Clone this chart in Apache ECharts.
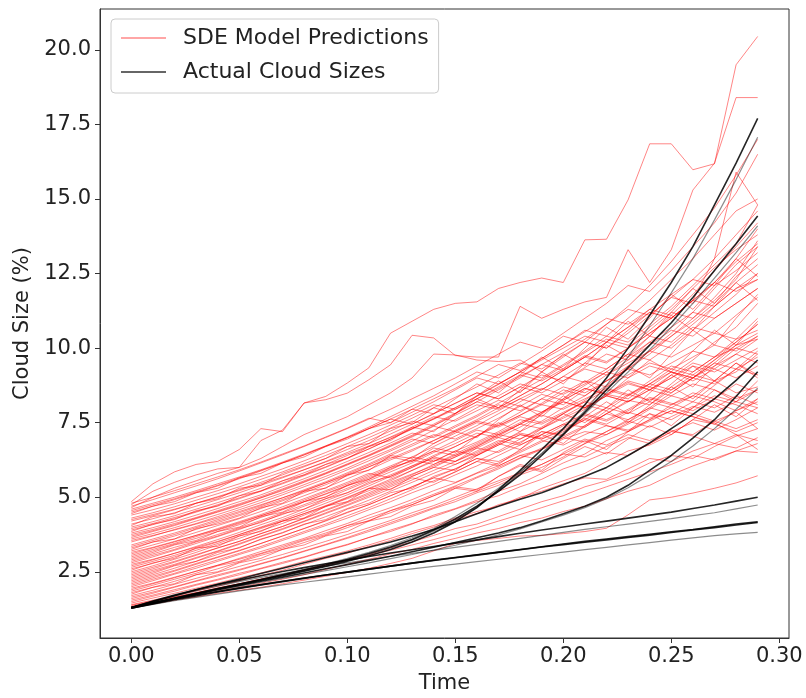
<!DOCTYPE html>
<html><head><meta charset="utf-8">
<script src="https://cdn.jsdelivr.net/npm/echarts@6/dist/echarts.min.js"></script>
<style>html,body{margin:0;padding:0;background:#fff}#c{width:806px;height:698px}</style>
</head><body><div id="c"></div>
<script>
const TIME = [0.00,0.01,0.02,0.03,0.04,0.05,0.06,0.07,0.08,0.09,0.10,0.11,0.12,0.13,0.14,0.15,0.16,0.17,0.18,0.19,0.20,0.21,0.22,0.23,0.24,0.25,0.26,0.27,0.28,0.29];
const X_TICKS = [0,0.05,0.10,0.15,0.20,0.25,0.30];
const Y_TICKS = [2.5,5,7.5,10,12.5,15,17.5,20];

// SDE model prediction paths
const red01 = [1.30,1.42,1.55,1.66,1.78,1.88,1.98,2.10,2.22,2.35,2.48,2.62,2.78,2.95,3.20,3.45,3.55,3.62,3.70,3.72,3.78,3.85,3.96,4.41,4.91,5.00,5.14,5.30,5.48,5.72];
const red02 = [1.32,1.45,1.58,1.72,1.85,1.98,2.12,2.25,2.40,2.58,2.75,2.92,3.10,3.25,3.45,3.62,3.80,3.95,4.15,4.30,4.52,4.70,4.95,5.20,5.40,5.75,6.05,6.30,6.55,6.80];
const red03 = [1.35,1.50,1.66,1.80,1.96,2.10,2.26,2.40,2.56,2.74,2.90,3.08,3.30,3.50,3.72,3.95,4.10,4.35,4.60,4.85,5.05,5.35,5.55,5.80,6.15,6.40,6.30,6.70,7.05,7.30];
const red04 = [1.40,1.55,1.70,1.86,2.02,2.20,2.38,2.55,2.75,2.95,3.12,3.35,3.55,3.78,4.00,4.25,4.45,4.75,4.95,5.30,5.55,5.80,6.20,6.55,6.75,7.10,7.60,7.45,7.90,8.30];
const red05 = [1.45,1.62,1.78,1.95,2.12,2.30,2.46,2.65,2.85,3.02,3.20,3.40,3.62,3.85,4.05,4.30,4.52,4.70,5.00,5.20,5.45,5.65,5.60,5.95,6.30,6.20,6.55,6.80,6.65,7.00];
const red06 = [1.50,1.68,1.85,2.05,2.22,2.40,2.60,2.78,2.98,3.20,3.40,3.65,3.85,4.10,4.40,4.62,4.90,5.20,5.45,5.80,6.15,6.45,6.90,7.20,7.60,8.10,8.40,8.90,9.20,9.80];
const red07 = [1.55,1.72,1.90,2.08,2.25,2.45,2.62,2.82,3.00,3.22,3.42,3.65,3.90,4.12,4.35,4.60,4.85,5.05,5.35,5.60,5.95,6.20,6.50,6.40,6.80,7.20,7.10,7.55,7.30,7.60];
const red08 = [1.60,1.78,1.98,2.18,2.36,2.55,2.76,2.96,3.18,3.40,3.62,3.85,4.10,4.35,4.62,4.85,5.15,5.40,5.75,6.00,6.35,6.80,7.10,7.50,7.95,8.40,8.20,8.75,9.30,9.10];
const red09 = [1.70,1.88,2.08,2.28,2.48,2.68,2.88,3.08,3.30,3.52,3.75,3.98,4.22,4.48,4.72,5.00,5.28,5.55,5.82,6.10,6.45,6.35,6.70,7.00,6.80,7.20,7.50,7.25,7.60,8.00];
const red10 = [1.80,1.98,2.18,2.40,2.60,2.82,3.05,3.25,3.48,3.72,3.98,4.22,4.48,4.75,5.05,5.30,5.65,5.95,6.30,6.60,7.00,7.35,7.80,8.20,8.60,9.10,9.60,10.20,10.70,11.50];
const red11 = [1.90,2.10,2.30,2.52,2.72,2.95,3.18,3.40,3.62,3.88,4.12,4.40,4.65,4.92,5.22,5.48,5.80,6.05,6.40,6.60,6.95,7.20,7.10,7.45,7.80,7.60,8.00,8.40,8.20,8.60];
const red12 = [2.00,2.20,2.42,2.62,2.85,3.08,3.30,3.55,3.80,4.05,4.30,4.58,4.85,5.15,5.42,5.75,6.05,6.40,6.75,7.10,7.45,7.35,7.80,8.25,8.10,8.60,9.00,8.80,9.30,9.70];
const red13 = [2.10,2.30,2.52,2.75,2.98,3.20,3.45,3.70,3.95,4.22,4.50,4.75,5.05,5.35,5.65,5.95,6.30,6.20,6.55,6.90,6.75,7.10,7.40,7.25,7.60,7.90,7.70,7.50,7.10,6.90];
const red14 = [2.20,2.40,2.62,2.85,3.08,3.32,3.58,3.82,4.08,4.35,4.62,4.90,5.20,5.50,5.80,6.10,6.45,6.80,7.20,7.55,8.00,8.40,8.90,9.30,9.80,10.40,10.90,11.50,12.20,12.80];
const red15 = [2.30,2.50,2.72,2.95,3.18,3.42,3.68,3.92,4.18,4.45,4.72,5.00,5.28,5.58,5.90,6.20,6.50,6.85,7.15,7.00,7.40,7.75,7.55,7.90,8.30,8.10,8.50,8.30,8.80,8.50];
const red16 = [2.40,2.60,2.82,3.05,3.30,3.52,3.78,4.02,4.30,4.58,4.85,5.15,5.45,5.75,6.10,6.40,6.70,7.10,6.95,7.30,7.70,8.10,7.90,8.40,8.80,9.30,9.10,9.60,10.10,10.50];
const red17 = [2.50,2.70,2.92,3.15,3.40,3.62,3.88,4.12,4.40,4.68,4.98,5.28,5.55,5.90,6.20,6.55,6.85,7.20,7.60,7.45,7.80,8.20,8.60,8.40,8.90,9.40,9.20,9.70,10.30,11.00];
const red18 = [2.60,2.78,3.00,3.22,3.45,3.70,3.95,4.20,4.45,4.72,5.00,5.30,5.60,5.90,6.25,6.10,6.40,6.75,7.10,6.95,7.25,7.60,7.40,7.20,7.55,7.90,7.70,7.45,7.20,7.50];
const red19 = [2.70,2.90,3.12,3.35,3.58,3.82,4.08,4.32,4.60,4.88,5.15,5.45,5.75,6.05,6.40,6.70,7.05,7.40,7.75,8.15,8.60,8.40,8.90,9.40,9.90,10.40,11.00,11.60,12.30,13.40];
const red20 = [2.80,3.00,3.22,3.45,3.68,3.92,4.18,4.42,4.70,4.95,5.25,5.55,5.85,6.15,6.50,6.80,7.15,7.00,7.35,7.75,7.55,7.95,8.40,8.20,8.70,8.50,9.00,9.50,9.30,9.90];
const red21 = [2.90,3.10,3.32,3.52,3.75,3.98,4.22,4.48,4.75,5.02,5.30,5.60,5.92,6.25,6.10,6.45,6.80,7.15,7.50,7.85,8.20,8.00,8.45,8.30,8.80,8.60,9.10,8.90,8.50,8.70];
const red22 = [3.00,3.20,3.42,3.62,3.85,4.08,4.32,4.58,4.85,5.12,5.40,5.70,6.00,6.35,6.70,7.05,7.40,7.80,8.20,8.60,9.05,8.85,9.30,9.80,9.60,10.10,10.70,10.50,11.10,11.70];
const red23 = [3.10,3.30,3.50,3.72,3.95,4.18,4.42,4.68,4.95,5.22,5.50,5.80,5.65,6.00,6.35,6.20,6.55,6.90,6.75,7.10,7.45,7.80,7.60,7.95,8.35,8.15,7.90,8.30,8.10,7.80];
const red24 = [3.20,3.40,3.60,3.82,4.05,4.28,4.52,4.78,5.05,5.32,5.62,5.92,6.25,6.55,6.90,7.25,7.60,8.00,8.40,8.80,9.25,9.70,9.50,10.00,10.50,11.00,11.60,12.20,12.90,13.50];
const red25 = [3.30,3.50,3.70,3.92,4.15,4.38,4.62,4.88,5.15,5.42,5.72,6.02,6.35,6.20,6.55,6.90,7.25,7.10,7.45,7.80,8.20,8.00,8.40,8.80,8.60,9.00,9.50,9.30,9.80,10.30];
const red26 = [3.40,3.60,3.80,4.02,4.25,4.48,4.72,4.98,5.25,5.52,5.82,6.12,6.45,6.78,7.10,6.95,7.30,7.65,8.05,7.85,8.25,8.65,8.45,8.90,8.70,9.20,9.00,9.60,10.20,10.80];
const red27 = [3.50,3.70,3.92,4.12,4.35,4.58,4.82,5.08,5.35,5.62,5.92,6.22,6.55,6.88,7.25,7.60,8.00,8.40,8.80,8.60,9.05,9.50,9.30,9.80,10.40,10.20,10.80,11.40,12.00,12.30];
const red28 = [3.60,3.78,3.98,4.20,4.42,4.65,4.90,5.15,5.42,5.70,5.98,6.30,6.60,6.95,6.80,7.15,7.50,7.35,7.70,7.50,7.85,8.20,8.00,7.80,8.20,8.00,8.40,8.20,7.90,8.20];
const red29 = [3.70,3.88,4.08,4.30,4.52,4.75,4.98,5.25,5.52,5.80,6.10,6.40,6.72,7.05,7.40,7.80,8.20,8.00,8.40,8.80,9.25,9.70,10.20,10.00,10.60,11.20,11.00,11.70,12.50,13.60];
const red30 = [3.80,3.98,4.18,4.40,4.62,4.85,5.08,5.35,5.62,5.90,6.20,6.50,6.82,7.15,7.00,7.35,7.70,8.10,7.90,8.30,8.70,8.50,8.90,9.30,9.10,9.50,9.90,9.70,10.00,9.80];
const red31 = [3.90,4.08,4.28,4.50,4.72,4.95,5.20,5.45,5.72,6.00,6.30,6.62,6.95,7.30,7.65,8.00,8.40,8.80,9.20,9.00,9.45,9.90,10.40,10.20,10.80,11.40,12.10,12.80,13.50,14.80];
const red32 = [4.00,4.18,4.38,4.60,4.82,5.05,5.30,5.55,5.82,6.10,6.40,6.70,7.02,7.35,7.70,7.55,7.90,8.25,8.05,8.45,8.25,8.65,8.45,8.85,8.60,8.40,8.80,8.60,8.30,8.60];
const red33 = [4.10,4.28,4.48,4.70,4.92,5.15,5.40,5.65,5.92,6.20,6.50,6.80,7.12,7.45,7.80,8.15,8.50,8.30,8.70,9.10,8.90,9.35,9.80,9.60,10.10,10.60,10.40,11.00,11.50,12.00];
const red34 = [4.20,4.38,4.58,4.80,5.02,5.25,5.50,5.75,6.02,6.30,6.60,6.90,7.22,7.55,7.40,7.75,8.10,7.95,8.30,8.65,8.45,8.80,9.20,9.00,9.40,9.20,8.90,9.30,9.00,9.40];
const red35 = [4.30,4.48,4.68,4.90,5.12,5.35,5.60,5.85,6.12,6.40,6.70,7.00,7.32,7.65,8.00,8.35,8.70,9.10,9.50,9.30,9.75,10.20,10.00,10.50,11.10,11.70,11.50,12.20,13.00,14.00];
const red36 = [4.40,4.58,4.78,5.00,5.22,5.45,5.70,5.95,6.22,6.50,6.80,7.10,7.42,7.75,8.10,7.95,8.30,8.70,9.10,8.90,9.30,9.75,9.55,10.00,10.50,11.00,11.60,13.00,15.90,14.80];
const red37 = [4.50,4.70,4.92,5.15,5.38,5.62,5.88,6.15,6.42,6.72,7.02,7.35,7.70,8.05,8.40,8.80,9.20,9.00,9.45,9.90,10.40,10.20,10.80,11.40,12.10,12.90,13.80,14.70,15.80,17.00];
const red38 = [4.60,4.80,5.00,5.22,5.45,5.68,5.92,6.18,6.45,6.72,7.00,7.30,7.62,7.45,7.80,8.15,8.50,8.30,8.70,8.50,8.90,9.30,9.10,9.50,9.90,9.70,10.10,10.50,10.30,10.60];
const red39 = [4.70,4.92,5.15,5.38,5.62,5.88,6.15,6.42,6.70,7.00,7.30,7.62,7.95,8.30,8.65,9.00,9.40,9.80,10.20,10.00,10.50,11.00,11.50,12.10,11.90,12.60,13.40,14.20,15.20,16.50];
const red40 = [4.80,5.00,5.22,5.45,5.68,5.92,6.18,6.45,6.72,7.02,7.32,7.65,7.50,7.85,8.20,8.60,9.00,8.80,9.20,9.60,10.00,10.40,10.20,10.70,11.20,11.00,11.60,11.40,12.00,12.50];
const red41 = [2.05,2.25,2.45,2.68,2.90,3.12,3.35,3.60,3.85,4.10,4.38,4.65,4.95,5.25,5.55,5.85,6.20,6.55,6.95,7.35,7.80,8.25,8.75,9.30,9.90,10.50,11.20,12.00,12.80,13.40];
const red42 = [2.35,2.55,2.75,2.98,3.20,3.45,3.70,3.95,4.20,4.48,4.75,5.05,5.35,5.65,5.50,5.85,6.20,6.05,6.40,6.25,6.60,6.95,6.75,7.10,6.90,7.25,7.05,6.80,7.10,6.60];
const red43 = [2.65,2.85,3.05,3.28,3.50,3.75,4.00,4.25,4.52,4.80,5.08,5.38,5.70,6.00,6.35,6.70,7.05,7.45,7.85,8.30,8.10,8.60,9.10,9.60,10.20,10.00,10.60,11.20,11.80,12.50];
const red44 = [3.05,3.25,3.45,3.68,3.90,4.12,4.38,4.62,4.90,5.18,5.45,5.75,6.05,6.35,6.20,6.55,6.40,6.75,7.10,6.95,7.30,7.65,7.45,7.85,7.65,8.00,7.80,7.55,7.85,7.30];
const red45 = [3.35,3.55,3.75,3.98,4.20,4.42,4.68,4.92,5.20,5.48,5.78,6.08,6.40,6.72,7.05,7.40,7.75,8.15,8.55,8.95,9.40,9.85,10.30,10.10,10.70,11.30,12.00,12.70,13.30,13.80];
const red46 = [3.65,3.85,4.05,4.28,4.50,4.72,4.98,5.22,5.50,5.78,6.08,6.38,6.70,7.02,7.38,7.20,7.55,7.90,8.30,8.10,8.50,8.90,8.70,9.10,9.50,9.30,9.70,10.10,9.90,10.40];
const red47 = [3.95,4.12,4.32,4.52,4.75,4.98,5.22,5.48,5.75,6.02,6.32,6.62,6.95,7.28,7.62,8.00,8.38,8.78,9.20,9.65,10.10,10.60,10.40,11.00,11.60,12.30,13.00,13.80,14.60,15.00];
const red48 = [1.65,1.82,2.00,2.20,2.40,2.58,2.78,2.98,3.20,3.42,3.65,3.90,4.15,4.40,4.65,4.92,5.20,5.48,5.80,6.10,6.45,6.80,7.20,7.60,8.00,8.50,9.00,9.50,10.10,10.30];
const red49 = [1.38,1.52,1.65,1.80,1.95,2.10,2.25,2.40,2.55,2.72,2.88,3.05,3.22,3.40,3.58,3.78,3.98,4.20,4.42,4.65,4.88,5.10,5.35,5.60,5.85,6.10,6.40,6.25,6.55,6.50];
const red50 = [2.45,2.65,2.85,3.08,3.30,3.52,3.78,4.02,4.28,4.55,4.82,5.10,5.40,5.70,6.00,6.35,6.70,7.05,7.45,7.85,8.30,8.75,9.20,9.70,10.20,10.70,11.20,11.00,11.50,12.00];
const red51 = [4.25,4.42,4.60,4.80,5.00,5.22,5.45,5.68,5.92,6.18,6.45,6.72,7.00,7.30,7.62,7.95,8.30,8.65,9.05,9.45,9.85,10.30,10.80,11.30,11.10,11.70,12.30,13.00,13.80,14.60];
const red52 = [3.15,3.32,3.52,3.72,3.92,4.15,4.38,4.60,4.85,5.10,5.38,5.65,5.95,6.25,6.55,6.40,6.75,7.10,7.45,7.30,7.65,8.00,8.40,8.20,8.60,9.00,9.40,9.20,9.60,10.00];
const red53 = [2.75,2.92,3.12,3.32,3.52,3.75,3.98,4.20,4.45,4.70,4.95,5.22,5.50,5.78,6.05,6.35,6.65,6.50,6.85,7.20,7.05,7.40,7.80,7.60,8.00,7.80,8.20,8.00,8.40,8.10];
const red54 = [3.75,3.92,4.12,4.32,4.55,4.78,5.02,5.28,5.55,5.82,6.12,6.42,6.75,7.08,7.45,7.82,8.20,8.60,9.00,9.45,9.25,9.70,10.20,10.70,11.30,11.10,11.80,12.60,13.40,14.20];
const red55 = [1.95,2.12,2.32,2.52,2.72,2.92,3.12,3.35,3.58,3.80,4.05,4.30,4.55,4.82,5.10,5.38,5.68,6.00,6.32,6.65,7.00,6.85,7.20,7.55,7.35,7.70,8.05,7.85,8.20,8.00];
const red56 = [4.55,4.75,4.95,5.18,5.40,5.65,5.90,6.15,6.42,6.70,7.00,7.30,7.62,7.95,8.30,8.65,9.05,9.45,9.25,9.65,10.10,10.55,11.00,10.80,11.30,11.80,12.30,12.10,12.60,13.20];
const red57 = [2.15,2.35,2.55,2.78,3.00,3.22,3.45,3.70,3.95,4.20,4.48,4.75,5.05,5.35,5.65,5.50,5.82,6.15,6.50,6.85,7.20,7.60,8.00,8.45,8.25,8.70,9.20,9.70,10.20,10.80];
const red58 = [3.55,3.72,3.90,4.10,4.30,4.52,4.75,4.98,5.22,5.48,5.75,6.02,6.30,6.60,6.90,7.22,7.55,7.40,7.75,8.10,7.95,8.30,8.65,8.45,8.80,9.20,9.00,9.40,9.80,9.50];
const red59 = [2.55,2.80,2.95,3.30,3.35,3.70,3.85,4.20,4.30,4.70,4.85,5.30,5.25,5.70,6.00,5.90,6.40,6.80,6.60,7.20,7.10,7.70,8.20,7.80,8.50,9.10,8.70,9.40,10.00,10.40];
const red60 = [3.25,3.50,3.60,3.95,4.10,4.30,4.65,4.80,5.20,5.30,5.75,5.90,6.40,6.30,6.80,7.20,7.00,7.60,8.10,7.70,8.30,8.90,8.40,9.00,9.60,9.20,9.90,10.60,10.10,10.90];
const red61 = [1.75,1.98,2.10,2.40,2.50,2.80,2.95,3.25,3.40,3.70,3.85,4.20,4.35,4.70,4.90,5.30,5.20,5.70,6.10,5.90,6.50,6.90,6.60,7.20,7.80,7.40,8.00,8.60,8.20,8.90];
const red62 = [4.05,4.35,4.45,4.80,4.95,5.30,5.40,5.80,6.05,6.30,6.70,6.80,7.30,7.50,8.00,7.80,8.40,8.90,8.50,9.20,9.80,9.40,10.20,10.90,10.40,11.20,12.00,11.50,12.40,13.00];
const red63 = [2.25,2.45,2.70,2.85,3.15,3.30,3.60,3.80,4.10,4.25,4.60,4.80,5.15,5.30,5.70,5.95,6.30,6.10,6.60,7.10,6.80,7.40,7.90,7.50,8.10,8.70,8.30,8.90,9.50,9.00];
const red64 = [3.85,4.10,4.25,4.55,4.70,5.05,5.20,5.55,5.75,6.10,6.30,6.70,6.90,7.35,7.20,7.80,8.30,8.00,8.60,9.20,8.80,9.50,10.10,9.70,10.40,11.10,10.60,11.40,12.20,11.60];
const red65 = [1.85,2.05,2.25,2.45,2.70,2.85,3.10,3.30,3.55,3.75,4.05,4.20,4.55,4.75,5.05,5.35,5.25,5.70,6.05,5.85,6.30,6.70,6.45,6.95,7.40,7.10,7.60,8.10,7.70,8.30];
const red66 = [2.95,3.15,3.40,3.55,3.85,4.00,4.35,4.50,4.85,5.00,5.40,5.60,6.00,6.20,6.65,6.50,7.05,7.50,7.20,7.80,8.40,8.00,8.70,9.40,9.00,9.80,10.60,10.10,11.00,11.80];
const red67 = [4.45,4.70,4.85,5.15,5.30,5.65,5.80,6.15,6.35,6.70,6.95,7.30,7.50,7.95,7.80,8.30,8.80,8.50,9.10,9.70,9.30,10.00,10.70,10.30,11.00,11.80,11.30,12.10,13.00,12.40];
const red68 = [2.85,3.05,3.25,3.50,3.70,3.95,4.15,4.45,4.60,4.95,5.15,5.50,5.70,6.05,6.30,6.20,6.65,7.00,6.80,7.30,7.80,7.50,8.00,8.60,8.20,8.80,9.40,8.90,9.50,9.10];
const redTop1 = [4.85,5.45,5.85,6.10,6.20,6.60,7.30,7.20,8.16,8.38,8.83,9.34,10.50,10.90,11.30,11.50,11.55,12.00,12.20,12.35,12.20,13.63,13.65,14.97,16.85,16.85,15.98,16.18,19.50,20.45];
const redTop2 = [4.75,5.20,5.50,5.75,5.95,6.00,6.90,7.25,8.16,8.27,8.49,8.94,9.44,10.43,10.34,9.75,9.70,9.70,11.40,11.00,11.30,11.55,11.70,13.30,12.20,13.30,15.30,16.20,18.40,18.40];
const redTop3 = [4.65,5.00,5.30,5.55,5.80,6.00,6.30,6.70,7.10,7.40,7.70,8.10,8.50,9.00,9.80,9.77,9.60,9.55,9.60,9.20,9.70,10.20,10.00,10.60,11.20,11.00,11.60,12.20,11.90,12.30];

// Actual cloud sizes
const actA  = [1.28,1.44,1.60,1.76,1.92,2.07,2.22,2.37,2.52,2.68,2.85,3.04,3.25,3.50,3.80,4.18,4.65,5.25,5.90,6.60,7.30,8.10,9.00,10.00,11.10,12.20,13.40,14.80,16.20,17.70];
const actA2 = [1.28,1.44,1.60,1.76,1.92,2.07,2.22,2.37,2.53,2.70,2.88,3.08,3.30,3.56,3.86,4.22,4.66,5.20,5.82,6.48,7.15,7.90,8.75,9.70,10.75,11.85,13.00,14.30,15.65,17.07];
const actB  = [1.30,1.46,1.62,1.78,1.94,2.09,2.24,2.40,2.56,2.73,2.91,3.11,3.33,3.58,3.90,4.27,4.70,5.20,5.75,6.40,7.10,7.85,8.60,9.35,10.10,10.85,11.70,12.60,13.50,14.43];
const actB2 = [1.30,1.46,1.62,1.78,1.94,2.09,2.25,2.41,2.58,2.76,2.95,3.15,3.38,3.64,3.95,4.35,4.80,5.30,5.85,6.45,7.10,7.80,8.50,9.20,9.95,10.70,11.50,12.35,13.20,14.10];
const actC1 = [1.30,1.50,1.70,1.90,2.08,2.26,2.44,2.62,2.80,2.98,3.15,3.32,3.50,3.70,3.92,4.18,4.45,4.70,4.93,5.15,5.42,5.70,6.00,6.40,6.82,7.30,7.78,8.30,8.92,9.60];
const actC2 = [1.30,1.45,1.60,1.75,1.90,2.04,2.18,2.32,2.46,2.60,2.74,2.88,3.02,3.17,3.32,3.48,3.64,3.80,3.98,4.20,4.45,4.70,5.00,5.40,5.90,6.40,6.98,7.60,8.38,9.21];
const actC3 = [1.30,1.45,1.60,1.74,1.88,2.02,2.15,2.28,2.41,2.54,2.67,2.80,2.94,3.08,3.23,3.39,3.56,3.74,3.94,4.17,4.40,4.65,4.95,5.32,5.75,6.20,6.72,7.30,7.95,8.66];
const actD  = [1.30,1.52,1.72,1.90,2.07,2.22,2.37,2.51,2.64,2.77,2.89,3.01,3.13,3.24,3.35,3.46,3.57,3.68,3.79,3.90,4.00,4.10,4.20,4.30,4.40,4.50,4.62,4.74,4.87,5.00];
const actD2 = [1.30,1.50,1.69,1.86,2.02,2.17,2.31,2.44,2.57,2.69,2.80,2.91,3.02,3.12,3.22,3.32,3.42,3.52,3.62,3.72,3.82,3.92,4.01,4.10,4.19,4.28,4.38,4.48,4.61,4.74];
const actE  = [1.30,1.45,1.59,1.72,1.84,1.96,2.07,2.18,2.29,2.39,2.49,2.59,2.69,2.79,2.89,2.98,3.07,3.16,3.25,3.34,3.43,3.52,3.60,3.68,3.76,3.84,3.92,4.01,4.10,4.18];
const actE2 = [1.28,1.42,1.56,1.69,1.82,1.94,2.06,2.17,2.28,2.39,2.49,2.59,2.69,2.79,2.88,2.97,3.06,3.15,3.24,3.33,3.41,3.49,3.57,3.65,3.73,3.82,3.90,3.98,4.07,4.15];
const actE3 = [1.28,1.41,1.53,1.64,1.75,1.86,1.96,2.06,2.15,2.24,2.33,2.42,2.51,2.60,2.68,2.76,2.84,2.92,3.00,3.08,3.16,3.24,3.32,3.40,3.48,3.56,3.64,3.71,3.77,3.82];

const RED_PATHS = [red01,red02,red03,red04,red05,red06,red07,red08,red09,red10,red11,red12,red13,red14,red15,red16,red17,red18,red19,red20,red21,red22,red23,red24,red25,red26,red27,red28,red29,red30,red31,red32,red33,red34,red35,red36,red37,red38,red39,red40,red41,red42,red43,red44,red45,red46,red47,red48,red49,red50,red51,red52,red53,red54,red55,red56,red57,red58,red59,red60,red61,red62,red63,red64,red65,red66,red67,red68,redTop1,redTop2,redTop3];
const ACTUAL_SINGLE = [actA2, actB2, actC3, actD2, actE3];
const ACTUAL_OVERLAP = [actA, actB, actC1, actC2, actD, actE, actE2];

const FONT = 'DejaVu Sans';
const PRED_NAME = 'SDE Model Predictions';
const ACT_NAME = 'Actual Cloud Sizes';

function toPoints(vals) { return vals.map((v, i) => [TIME[i], v]); }

const series = [];
RED_PATHS.forEach(p => series.push({
  type: 'line', name: PRED_NAME, data: toPoints(p), symbol: 'none', showSymbol: false,
  silent: true, animation: false, z: 2,
  lineStyle: { color: '#ff0000', width: 1, opacity: 0.48 },
  itemStyle: { color: 'rgba(255,0,0,0.35)' }
}));
ACTUAL_SINGLE.forEach(p => series.push({
  type: 'line', name: ACT_NAME, data: toPoints(p), symbol: 'none', showSymbol: false,
  silent: true, animation: false, z: 3,
  lineStyle: { color: '#000000', width: 1.2, opacity: 0.45 },
  itemStyle: { color: 'rgba(0,0,0,0.6)' }
}));
ACTUAL_OVERLAP.forEach(p => series.push({
  type: 'line', name: ACT_NAME, data: toPoints(p), symbol: 'none', showSymbol: false,
  silent: true, animation: false, z: 3,
  lineStyle: { color: '#000000', width: 1.6, opacity: 0.85 },
  itemStyle: { color: 'rgba(0,0,0,0.6)' }
}));

const chart = echarts.init(document.getElementById('c'), null, { renderer: 'canvas' });
chart.setOption({
  animation: false,
  backgroundColor: '#ffffff',
  textStyle: { fontFamily: FONT },
  grid: { left: 100, right: 17, top: 9, bottom: 60, show: true, borderColor: '#333333', borderWidth: 1, outerBoundsMode: 'none', containLabel: false },
  legend: {
    left: 111, top: 19, orient: 'vertical', selectedMode: false,
    backgroundColor: 'rgba(255,255,255,0.8)', borderColor: '#cccccc', borderWidth: 1, borderRadius: 4,
    padding: [6, 10, 8, 10], itemWidth: 45, itemHeight: 2, itemGap: 8, icon: 'rect',
    textStyle: { fontSize: 22, fontFamily: FONT, color: '#222222', padding: [0, 0, 0, 12], lineHeight: 26 },
    data: [
      { name: PRED_NAME, icon: 'rect', itemStyle: { color: 'rgba(255,0,0,0.35)' } },
      { name: ACT_NAME, icon: 'rect', itemStyle: { color: 'rgba(0,0,0,0.6)' } }
    ]
  },
  xAxis: {
    type: 'value', min: -0.0145, max: 0.3045,
    axisLine: { show: true, onZero: false, lineStyle: { color: '#333333', width: 1 } },
    splitLine: { show: false },
    axisTick: { show: true, length: 5, lineStyle: { color: '#333333' }, customValues: X_TICKS },
    axisLabel: { customValues: X_TICKS, formatter: v => v.toFixed(2), fontSize: 21, color: '#222222', fontFamily: FONT, margin: 8 },
    name: 'Time', nameLocation: 'middle', nameGap: 35,
    nameTextStyle: { fontSize: 21, color: '#222222', fontFamily: FONT }
  },
  yAxis: {
    type: 'value', min: 0.28, max: 21.37,
    axisLine: { show: true, onZero: false, lineStyle: { color: '#333333', width: 1 } },
    splitLine: { show: false },
    axisTick: { show: true, length: 5, lineStyle: { color: '#333333' }, customValues: Y_TICKS },
    axisLabel: { customValues: Y_TICKS, formatter: v => v.toFixed(1), fontSize: 21, color: '#222222', fontFamily: FONT, margin: 9 },
    name: 'Cloud Size (%)', nameLocation: 'middle', nameGap: 64, nameRotate: 90,
    nameTextStyle: { fontSize: 21, color: '#222222', fontFamily: FONT }
  },
  series: series
});
</script>
</body></html>
